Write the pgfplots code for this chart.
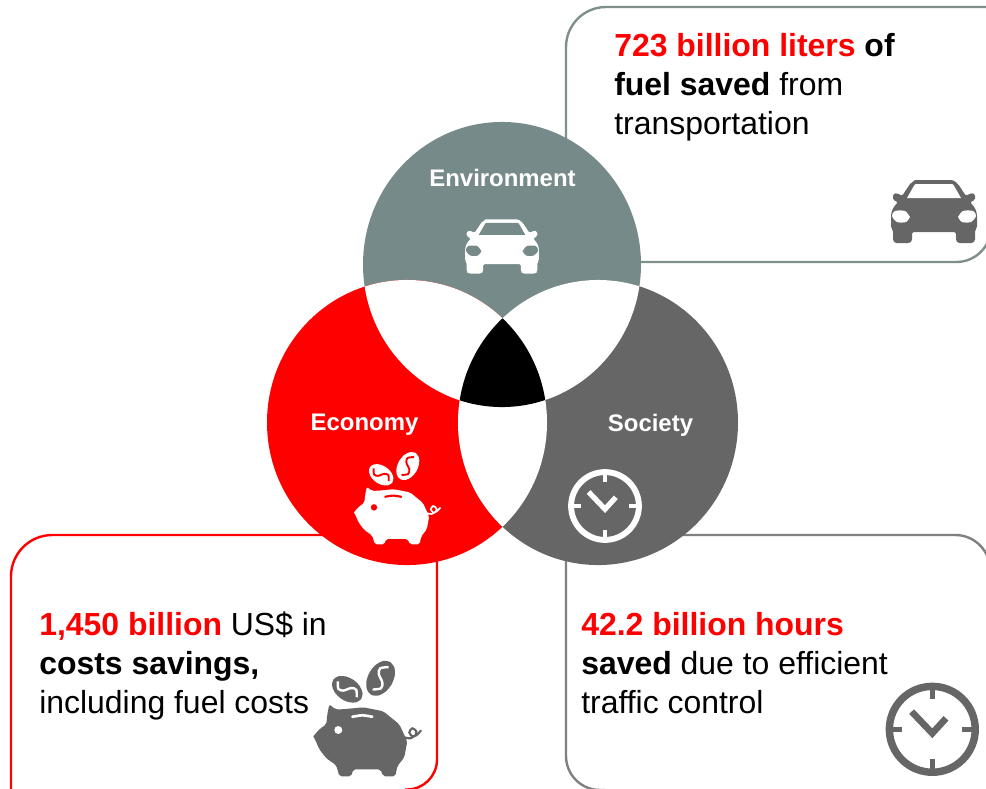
\documentclass[border=0pt]{standalone}
\usepackage{fontspec}
\setmainfont{Liberation Sans}
\usepackage{pgfplots}
\usepackage{pgfplotstable}
\pgfplotsset{compat=1.18}

\definecolor{envcol}{HTML}{778A8A}
\definecolor{soccol}{HTML}{666666}
\definecolor{boxgray}{HTML}{7F908C}
\definecolor{boxgrayB}{HTML}{808080}
\definecolor{ecocol}{HTML}{FF0000}

% icon outlines, in reference pixels round the icon's centre, y downwards
\pgfplotstableread{
x y
-19 -31
19 -31
24 -27
32 -15
37 -18
41 -17
41 -11
36 -9
41 -3
43 3
43 17
41 19
41 30
39 32
24 32
22 30
22 21
-22 21
-22 30
-24 32
-39 32
-41 30
-41 19
-43 17
-43 3
-41 -3
-36 -9
-41 -11
-41 -17
-37 -18
-32 -15
-24 -27
}\carbody
\pgfplotstableread{
x y
-27 -13
-19 -27
19 -27
27 -13
}\carglass
\pgfplotstableread{
x y
24 6
29 0
39 0
42 5
37 11
28 11
24 6
}\carlightR
\pgfplotstableread{
x y
-24 6
-29 0
-39 0
-42 5
-37 11
-28 11
-24 6
}\carlightL
\pgfplotstableread{
x y
-50 -2
-44 -9
-37 -14
-36 -24
-34 -34
-28 -29
-21 -29
0 -31
20 -27
36 -14
44 3
41 19
34 28
32 38
20 38
17 31
-10 31
-12 38
-24 38
-27 27
-37 20
-44 11
-47 4
}\pigbody
\pgfplotstableread{
x y
41 -1
47 0
52 -3
53 -7
49 -10
46 -6
49 -2
53 -3
58 -8
}\pigtail
\pgfplotstableread{
x y
-11 -21.5
-1 -23
9 -21.5
}\pigslot
\pgfplotstableread{
x y
1 0
0.866 0.5
0.5 0.866
0 1
-0.5 0.866
-0.866 0.5
-1 0
-0.866 -0.5
-0.5 -0.866
0 -1
0.5 -0.866
0.866 -0.5
1 0
}\unitround
\pgfplotstableread{
x y
-0.72 -0.1
-0.45 0.42
-0.15 0.3
0.15 -0.3
0.45 -0.42
0.72 0.1
}\dollarS
\pgfplotstableread{
x y
-20.7 -17.7
0 4
13.7 -11
}\clockhands

\newcommand{\caricon}[5]{%
  \addplot[fill=#4,draw=none,rounded corners=1.2pt] table[x expr=#1+#3*\thisrow{x},y expr=#2+#3*\thisrow{y}] {\carbody};
  \addplot[fill=#5,draw=none,rounded corners=0.8pt] table[x expr=#1+#3*\thisrow{x},y expr=#2+#3*\thisrow{y}] {\carglass};
  \addplot[fill=#5,draw=none,smooth] table[x expr=#1+#3*\thisrow{x},y expr=#2+#3*\thisrow{y}] {\carlightR};
  \addplot[fill=#5,draw=none,smooth] table[x expr=#1+#3*\thisrow{x},y expr=#2+#3*\thisrow{y}] {\carlightL};
}
\newcommand{\coinfill}[8]{%
  \addplot[fill=#7,draw=none,smooth] table[
    x expr=#1+#3*(#4+#5*\thisrow{x}*cos(#6)-#5*0.66*\thisrow{y}*sin(#6)),
    y expr=#2+#3*(#8+#5*\thisrow{x}*sin(#6)+#5*0.66*\thisrow{y}*cos(#6))] {\unitround};
}
\newcommand{\coinS}[8]{%
  \addplot[draw=#7,line width=#3*1.8pt,smooth] table[
    x expr=#1+#3*(#4+#5*\thisrow{x}*cos(#6)-#5*0.66*\thisrow{y}*sin(#6)),
    y expr=#2+#3*(#8+#5*\thisrow{x}*sin(#6)+#5*0.66*\thisrow{y}*cos(#6))] {\dollarS};
}
\newcommand{\pigicon}[5]{%
  \addplot[fill=#4,draw=none,rounded corners=1.5pt] table[x expr=#1+#3*\thisrow{x},y expr=#2+#3*\thisrow{y}] {\pigbody};
  \addplot[draw=#4,line width=#3*1.6pt,smooth] table[x expr=#1+#3*\thisrow{x},y expr=#2+#3*\thisrow{y}] {\pigtail};
  \addplot[draw=#5,line width=#3*2pt,line cap=round,smooth] table[x expr=#1+#3*\thisrow{x},y expr=#2+#3*\thisrow{y}] {\pigslot};
  \fill[#5] (axis cs:{#1-25*#3},{#2-8.3*#3}) circle [radius=#3*3pt];
  \coinfill{#1}{#2}{#3}{-16}{17}{35}{#4}{-49}
  \coinS{#1}{#2}{#3}{-16}{17}{35}{#5}{-49}
  \coinfill{#1}{#2}{#3}{17.3}{19}{-60}{#4}{-60}
  \coinS{#1}{#2}{#3}{17.3}{19}{-60}{#5}{-60}
}
\newcommand{\clockicon}[4]{%
  \draw[#4,line width=#3*5.6pt] (axis cs:#1,#2) circle [radius=#3*32.2pt];
  \draw[#4,line width=#3*3.8pt] (axis cs:#1,{#2-44*#3}) -- (axis cs:#1,{#2-30*#3});
  \draw[#4,line width=#3*3.8pt] (axis cs:#1,{#2+44*#3}) -- (axis cs:#1,{#2+30*#3});
  \draw[#4,line width=#3*3.8pt] (axis cs:{#1-44*#3},#2) -- (axis cs:{#1-30*#3},#2);
  \draw[#4,line width=#3*3.8pt] (axis cs:{#1+44*#3},#2) -- (axis cs:{#1+30*#3},#2);
  \addplot[draw=#4,line width=#3*5pt] table[x expr=#1+#3*\thisrow{x},y expr=#2+#3*\thisrow{y}] {\clockhands};
}

% the three circles, slightly taller than wide as in the reference
\newcommand{\envc}{(axis cs:502,264.5) ellipse [x radius=104.25pt,y radius=106.9pt]}
\newcommand{\ecoc}{(axis cs:407,422.5) ellipse [x radius=105pt,y radius=106.9pt]}
\newcommand{\socc}{(axis cs:598,422.5) ellipse [x radius=105pt,y radius=106.9pt]}
\newcommand{\bodytxt}{\fontsize{23.95}{28}\selectfont}
\newcommand{\labtxt}{\fontsize{17.95}{21}\selectfont\bfseries}

\begin{document}
\begin{tikzpicture}
\useasboundingbox (0,0) rectangle (739.5pt,591.75pt);
\begin{axis}[
  at={(0,0)},anchor=south west,
  scale only axis,width=739.5pt,height=591.75pt,
  xmin=0,xmax=986,ymin=0,ymax=789,y dir=reverse,
  hide axis,clip=true,
]
% boxes first, the circles lie over their ends
\addplot[draw=boxgray,line width=1.8pt,rounded corners=30pt] coordinates {(566,170)(566,7)(1020,7)};
\addplot[draw=boxgray,line width=1.8pt,rounded corners=26pt] coordinates {(630,262)(991,262)(991,190)};
\addplot[draw=ecocol,line width=1.8pt,rounded corners=31pt] coordinates {(340,535)(11,535)(11,800)};
\addplot[draw=ecocol,line width=1.8pt,rounded corners=22.5pt] coordinates {(437,545)(437,789.5)(405,789.5)};
\addplot[draw=boxgrayB,line width=1.8pt,rounded corners=25.5pt] coordinates {(566,545)(566,790)(605,790)};
\addplot[draw=boxgrayB,line width=1.8pt,rounded corners=26pt] coordinates {(660,535)(990,535)(990,620)};

\fill[envcol] \envc;
\fill[ecocol] \ecoc;
\fill[soccol] \socc;
\begin{scope}
  \clip \envc;
  \fill[white] \ecoc;
  \fill[white] \socc;
\end{scope}
\begin{scope}
  \clip \ecoc;
  \fill[white] \socc;
\end{scope}
\begin{scope}
  \clip \envc;
  \clip \ecoc;
  \fill[black] \socc;
\end{scope}

\node[white,font=\labtxt] at (axis cs:502.5,178) {Environment};
\node[white,font=\labtxt] at (axis cs:364.5,425) {Economy};
\node[white,font=\labtxt] at (axis cs:650.5,425) {Society};

\caricon{502}{246}{0.86}{white}{envcol}
\caricon{934}{211}{1}{soccol}{white}
\pigicon{394}{514}{0.8}{white}{ecocol}
\pigicon{363.3}{738.3}{1}{soccol}{white}
\clockicon{605}{506}{0.79}{white}
\clockicon{932.3}{729.3}{1}{soccol}

\node[anchor=base west,inner sep=0pt,font=\bodytxt] at (axis cs:614,56) {\textcolor{ecocol}{\textbf{723 billion liters}} \textbf{of}};
\node[anchor=base west,inner sep=0pt,font=\bodytxt] at (axis cs:614,95) {\textbf{fuel saved} from};
\node[anchor=base west,inner sep=0pt,font=\bodytxt] at (axis cs:614,134) {transportation};

\node[anchor=base west,inner sep=0pt,font=\bodytxt] at (axis cs:39,635) {\textcolor{ecocol}{\textbf{1,450 billion}} US\$ in};
\node[anchor=base west,inner sep=0pt,font=\bodytxt] at (axis cs:39,674) {\textbf{costs savings,}};
\node[anchor=base west,inner sep=0pt,font=\bodytxt] at (axis cs:39,713) {including fuel costs};

\node[anchor=base west,inner sep=0pt,font=\bodytxt] at (axis cs:581,635) {\textcolor{ecocol}{\textbf{42.2 billion hours}}};
\node[anchor=base west,inner sep=0pt,font=\bodytxt] at (axis cs:581,674) {\textbf{saved} due to efficient};
\node[anchor=base west,inner sep=0pt,font=\bodytxt] at (axis cs:581,713) {traffic control};
\end{axis}
\end{tikzpicture}
\end{document}
